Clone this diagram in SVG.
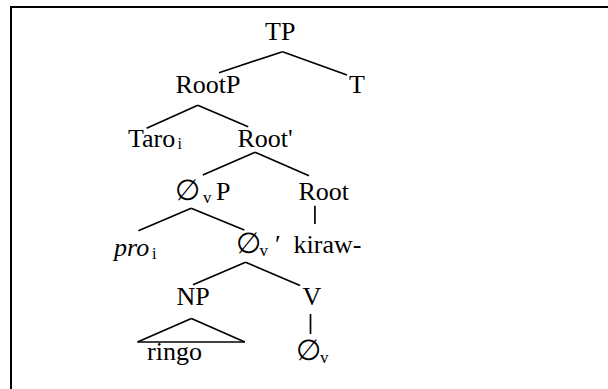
<svg xmlns="http://www.w3.org/2000/svg" width="608" height="389" viewBox="0 0 608 389">
<style>
text{font-family:"Liberation Serif","DejaVu Serif",serif;font-size:26px;fill:#000}
.sub{font-size:17px}
.si{font-size:16px}
.it{font-style:italic}
.e{font-family:"DejaVu Serif","Liberation Serif",serif;font-size:29px}
#edges line{stroke:#000;stroke-width:1.7;fill:none}
.frame{fill:none;stroke:#000;stroke-width:2}
</style>
<rect width="608" height="389" fill="#fff"/>
<path class="frame" d="M11,400 V7 H620"/>
<g id="edges">
<line x1="282.5" y1="51.7" x2="219" y2="72.7"/>
<line x1="282.5" y1="51.7" x2="347" y2="75"/>
<line x1="197.8" y1="105.3" x2="146.6" y2="128.3"/>
<line x1="197.8" y1="105.3" x2="248.2" y2="126.7"/>
<line x1="255.1" y1="152.3" x2="202.8" y2="175"/>
<line x1="255.1" y1="152.3" x2="309" y2="175.7"/>
<line x1="191.2" y1="208.3" x2="138.4" y2="230.7"/>
<line x1="191.2" y1="208.3" x2="244.3" y2="230"/>
<line x1="314.9" y1="205.7" x2="314.9" y2="224"/>
<line x1="245.5" y1="262.2" x2="193" y2="284.7"/>
<line x1="245.5" y1="262.2" x2="300" y2="285.5"/>
<line x1="310.5" y1="314" x2="310.5" y2="334"/>
<line x1="191.4" y1="318.5" x2="137.5" y2="342"/>
<line x1="191.4" y1="318.5" x2="244.8" y2="342"/>
<line x1="137.5" y1="342" x2="244.8" y2="342"/>
</g>
<g id="TP"><text x="265" y="40">TP</text></g>
<g id="RootP"><text x="175.5" y="93">RootP</text></g>
<g id="T"><text x="349" y="93">T</text></g>
<g id="Taro"><text x="128" y="146.5">Taro</text><text class="si" x="177.5" y="149">i</text></g>
<g id="RootBar"><text x="237.5" y="146.5">Root'</text></g>
<g id="vP"><text class="e" x="174.5" y="200">∅</text><text class="sub" x="203" y="203">v</text><text x="216" y="200">P</text></g>
<g id="Root"><text x="298.5" y="200">Root</text></g>
<g id="pro"><text class="it" x="114" y="256">pro</text><text class="si" x="152" y="258.5">i</text></g>
<g id="vBar"><text class="e" x="235.5" y="253.3">∅</text><text class="sub" x="259.5" y="256">v</text><text x="275" y="253.3">′</text></g>
<g id="kiraw"><text x="293.5" y="253.3">kiraw-</text></g>
<g id="NP"><text x="176.5" y="305">NP</text></g>
<g id="V"><text x="302.5" y="305">V</text></g>
<g id="ringo"><text x="147" y="360">ringo</text></g>
<g id="v0"><text class="e" x="295.5" y="360">∅</text><text class="sub" x="320" y="362.5">v</text></g>
</svg>
